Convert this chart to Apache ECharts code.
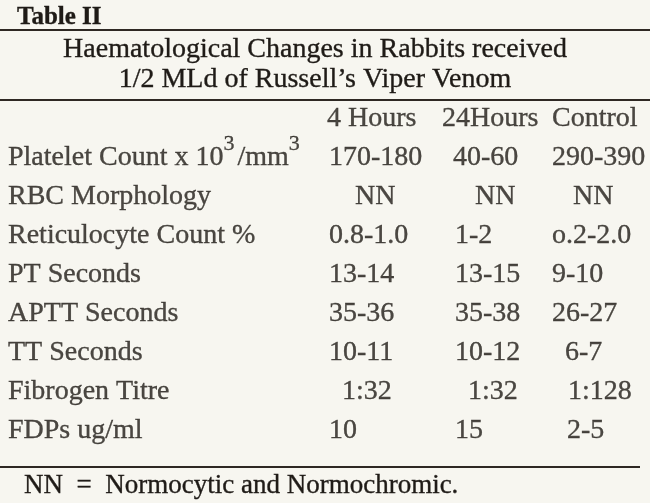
<!DOCTYPE html>
<html>
<head>
<meta charset="utf-8">
<script src="https://cdn.jsdelivr.net/npm/echarts@6/dist/echarts.min.js"></script>
<style>
  html, body { margin: 0; padding: 0; background: #f7f6f0; }
  #chart { width: 650px; height: 503px; }
</style>
</head>
<body>
<div id="chart"></div>
<script>
// ---- Data ----
const tableLabel = 'Table II';
const captionLines = ['Haematological Changes in Rabbits received', '1/2 MLd of Russell\u2019s Viper Venom'];
const columnHeads = ['4 Hours', '24Hours', 'Control'];
const rowLabels = ['Platelet Count x 10\u00b3/mm\u00b3', 'RBC Morphology', 'Reticulocyte Count %', 'PT Seconds',
  'APTT Seconds', 'TT Seconds', 'Fibrogen Titre', 'FDPs ug/ml'];
const hours4 = ['170-180', 'NN', '0.8-1.0', '13-14', '35-36', '10-11', '1:32', '10'];
const hours24 = ['40-60', 'NN', '1-2', '13-15', '35-38', '10-12', '1:32', '15'];
const control = ['290-390', 'NN', 'o.2-2.0', '9-10', '26-27', '6-7', '1:128', '2-5'];
const footnote = 'NN  =  Normocytic and Normochromic.';

// ---- Layout (styles/positions only) ----
const FONT = '"Liberation Serif", "Times New Roman", serif';
const INK = '#1f1b17';
const FS = 28;
const GRID_LEFT = 0, GRID_W = 650, NCOL = 4;
const colLeft = [8, 329, 455, 552];       // left edge of text in each column
const headLeft = [null, 327, 442, 552];   // left edge of the column headings
const cellIndent = [                      // extra indent of individual cells
  [0, 0, 0, 0, 0, 0, 0, 0],
  [0, 26, 0, 0, 0, 0, 13, 0],
  [-2, 20, 0, 0, 0, 0, 13, 0],
  [0, 21, 0, 0, 0, 13, 16, 15]
];
function shift(c, left) { return left - (GRID_LEFT + (c + 0.5) * GRID_W / NCOL); }

const xCats = ['label'].concat(columnHeads);
const yCats = ['head'].concat(rowLabels);

const baseLabel = {
  show: true, position: 'inside', align: 'left', verticalAlign: 'middle',
  fontFamily: FONT, fontSize: FS, color: INK,
  textBorderColor: INK, textBorderWidth: 0.35,
  formatter: p => p.name.replace(/\u00b3/g, '{sup|3}'),
  rich: { sup: { fontFamily: FONT, fontSize: 22, color: INK, textBorderColor: INK, textBorderWidth: 0.3,
    padding: [0, 3, 28, 0] } }
};
function cellSeries(items) {
  return {
    type: 'scatter', symbolSize: 0, silent: true, animation: false,
    label: baseLabel, emphasis: { disabled: true },
    data: items
  };
}

const labelItems = rowLabels.map((t, r) => ({ name: t, value: [0, r + 1], label: { offset: [shift(0, colLeft[0]), 0] } }));
const headItems = columnHeads.map((t, i) => ({ name: t, value: [i + 1, 0], label: { offset: [shift(i + 1, headLeft[i + 1]), 0] } }));
const valueCols = [hours4, hours24, control];
const valueSeries = valueCols.map((col, i) => cellSeries(col.map((t, r) => ({
  name: t, value: [i + 1, r + 1],
  label: { offset: [shift(i + 1, colLeft[i + 1]) + cellIndent[i + 1][r], 0] }
}))));

const rule = (y, x2) => ({ type: 'line', silent: true, shape: { x1: 0, y1: y, x2: x2, y2: y },
  style: { stroke: '#2e2823', lineWidth: 2 } });
const txtStyle = (text, font, align) => ({ text: text, font: font, fill: INK, stroke: INK, lineWidth: 0.35,
  align: align || 'left' });

const chart = echarts.init(document.getElementById('chart'), null, { renderer: 'canvas' });
chart.setOption({
  backgroundColor: '#f7f6f0',
  animation: false,
  grid: { left: GRID_LEFT, width: GRID_W, top: 99.5, height: 351 },
  xAxis: { type: 'category', data: xCats, show: false },
  yAxis: { type: 'category', data: yCats, inverse: true, show: false },
  series: [cellSeries(labelItems), cellSeries(headItems)].concat(valueSeries),
  graphic: [
    { type: 'text', x: 17, y: 5, silent: true, style: txtStyle(tableLabel, 'bold 25px ' + FONT) },
    rule(30, 650),
    { type: 'text', x: 315, y: 36, silent: true, style: txtStyle(captionLines[0], FS + 'px ' + FONT, 'center') },
    { type: 'text', x: 315, y: 66, silent: true, style: txtStyle(captionLines[1], FS + 'px ' + FONT, 'center') },
    rule(100, 650),
    rule(467, 640),
    { type: 'text', x: 24, y: 472, silent: true, style: txtStyle(footnote, '27px ' + FONT) }
  ]
});
</script>
</body>
</html>
